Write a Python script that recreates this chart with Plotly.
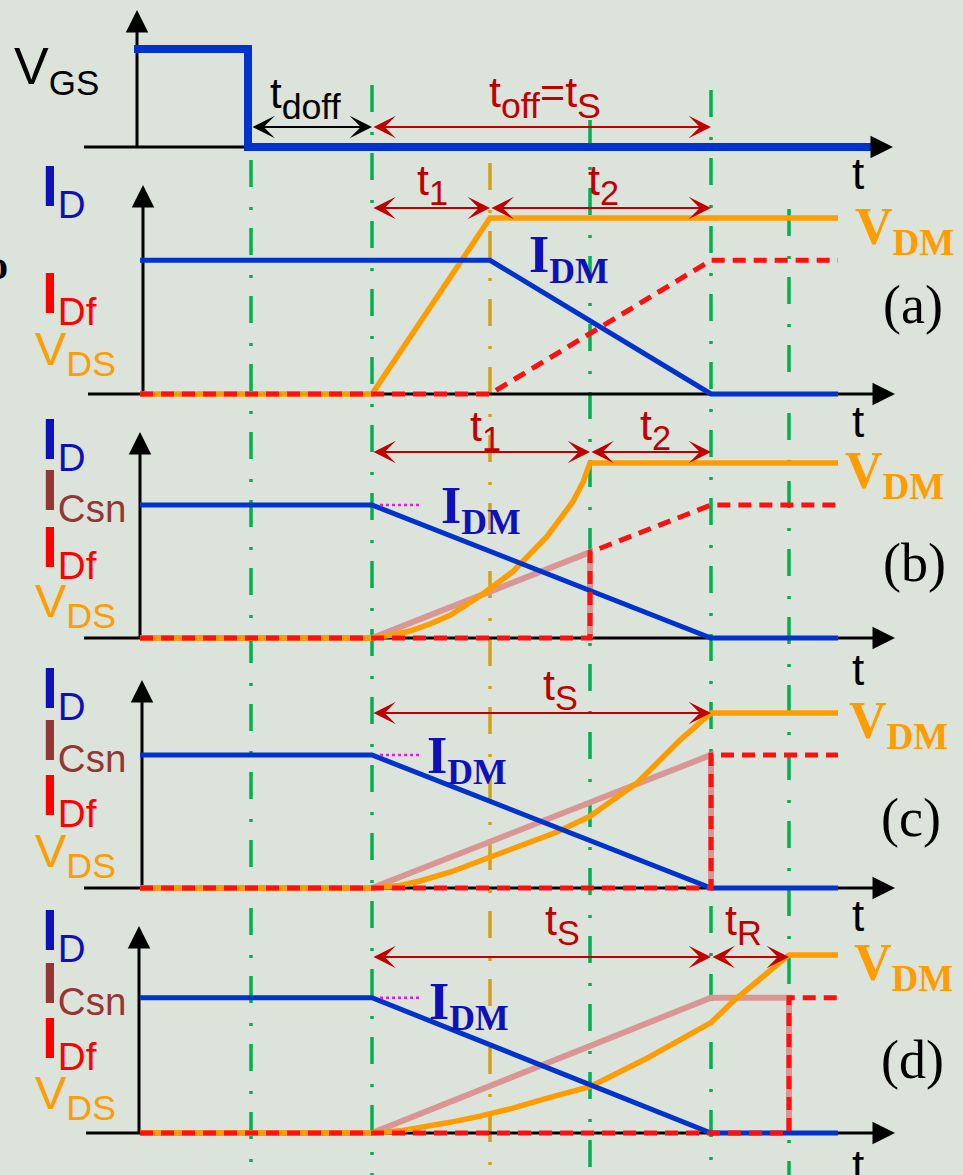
import plotly.graph_objects as go

W, H = 963, 1175

# ---------------- time instants of the turn-off sequence (time units) ----------------
T_GATE_OFF = 11.1   # gate drive removed
T_SW = 23.2         # end of turn-off delay t_doff
T_A1 = 35.0         # V_DS reaches V_DM, case (a)
T_B1 = 45.0         # V_DS reaches V_DM, case (b)
T_S = 57.1          # drain current has fallen to zero
T_R = 64.9          # V_DS reaches V_DM, case (d)
T_END = 69.8        # end of the drawn waveforms

# normalised levels
V_DM = 1.0
I_DM = 0.76
I_B1 = 0.49         # snubber current when V_DS clamps in case (b)

# ---------------- gate drive ----------------
VGS_T = [-0.6, 10.8, 10.8, 73.3]
VGS_V = [1.0, 1.0, 0.0, 0.0]

# ---------------- case (a): no snubber ----------------
A_ID_T = [0, T_A1, T_S, T_END]
A_ID = [I_DM, I_DM, 0, 0]
A_VDS_T = [0, T_SW, T_A1, T_END]
A_VDS = [0, 0, V_DM, V_DM]
A_IDF_T = [0, T_A1, T_S, T_END]
A_IDF = [0, 0, I_DM, I_DM]

# ---------------- case (b): small snubber ----------------
B_ID_T = [0, T_SW, T_S, T_END]
B_ID = [I_DM, I_DM, 0, 0]
B_VDS_T = [0, T_SW, 25.0, 27.0, 29.0, 31.0, 34.0, 37.3, 40.7, 43.3, 44.3, T_B1, T_END]
B_VDS = [0, 0, 0.015, 0.04, 0.08, 0.13, 0.24, 0.38, 0.58, 0.78, 0.89, V_DM, V_DM]
B_ICSN_T = [0, T_SW, T_B1, T_B1]
B_ICSN = [0, 0, I_B1, 0]
B_IDF_T = [0, T_B1, T_B1, T_S, T_END]
B_IDF = [0, 0, I_B1, I_DM, I_DM]

# ---------------- case (c): critical snubber ----------------
C_ID_T = [0, T_SW, T_S, T_END]
C_ID = [I_DM, I_DM, 0, 0]
C_VDS_T = [0, T_SW, 26.0, 28.0, 31.0, 34.0, 37.8, 41.7, 45.0, 49.7, 54.0, T_S, T_END]
C_VDS = [0, 0, 0.015, 0.04, 0.09, 0.155, 0.235, 0.32, 0.41, 0.60, 0.845, V_DM, V_DM]
C_ICSN_T = [0, T_SW, T_S, T_S]
C_ICSN = [0, 0, I_DM, 0]
C_IDF_T = [0, T_S, T_S, T_END]
C_IDF = [0, 0, I_DM, I_DM]

# ---------------- case (d): large snubber ----------------
D_ID_T = [0, T_SW, T_S, T_END]
D_ID = [I_DM, I_DM, 0, 0]
D_VDS_T = [0, T_SW, 26.0, 28.0, 31.0, 34.0, 37.3, 41.0, 45.0, 50.7, 54.7, T_S, 59.3, 62.3, T_R, T_END]
D_VDS = [0, 0, 0.012, 0.03, 0.06, 0.095, 0.14, 0.20, 0.26, 0.42, 0.55, 0.62, 0.74, 0.88, V_DM, V_DM]
D_ICSN_T = [0, T_SW, T_S, T_R, T_R]
D_ICSN = [0, 0, I_DM, I_DM, 0]
D_IDF_T = [0, T_R, T_R, T_END]
D_IDF = [0, 0, I_DM, I_DM]

# ---------------- styling ----------------
BG = "#dce3db"
BLUE = "#0033cc"
ORANGE = "#ff9c00"
RED = "#ff1010"
PINK = "#d99694"
DARKRED = "#c00000"
GREEN = "#00b050"
TAN = "#d4a017"
MAGENTA = "#dd22dd"
LBLUE = "#1010bb"
BROWN = "#943634"
SANS = "Liberation Sans, Arial, sans-serif"
SERIF = "Liberation Serif, Times New Roman, serif"

# time axis: pixel = X0 + PX_PER_T * t
X0, PX_PER_T = 140.0, 10.0
XRANGE = [(0 - X0) / PX_PER_T, (W - X0) / PX_PER_T]

# panel layout: (y axis name, baseline pixel, pixels per unit, axis x pixel, axis top pixel, baseline start pixel)
PANELS = {
    "vgs": ("y", 147, 98, 137, 10, 84),
    "a": ("y2", 394, 176, 143, 185, 88),
    "b": ("y3", 638, 175, 140, 432, 84),
    "c": ("y4", 888, 175, 142, 680, 84),
    "d": ("y5", 1133, 178, 139, 926, 86),
}
AXIS_TIP_X = 895


def px(x):
    return x / W


def py(y):
    return 1 - y / H


fig = go.Figure()
shapes = []
annotations = []

# vertical time markers (dash-dot), spanning all panels
MARKERS = [
    (T_GATE_OFF, 160, GREEN),
    (T_SW, 85, GREEN),
    (T_A1, 163, TAN),
    (T_B1, 120, GREEN),
    (T_S, 90, GREEN),
    (T_R, 209, GREEN),
]
for t, top, col in MARKERS:
    shapes.append(dict(type="line", xref="x", yref="paper", x0=t, x1=t,
                       y0=py(top), y1=0, layer="below",
                       line=dict(color=col, width=3.5, dash="27px,20px,3px,18px")))

# axes: black lines with arrowheads
for key, (yname, base, scale, ax_x, ax_top, base_x0) in PANELS.items():
    shapes.append(dict(type="line", xref="paper", yref="paper",
                       x0=px(ax_x), x1=px(ax_x), y0=py(base + 1), y1=py(ax_top + 18),
                       layer="below", line=dict(color="black", width=3)))
    tip = 893 if key == "vgs" else AXIS_TIP_X
    shapes.append(dict(type="line", xref="paper", yref="paper",
                       x0=px(base_x0), x1=px(tip - 18), y0=py(base), y1=py(base),
                       layer="below", line=dict(color="black", width=3)))
    annotations.append(dict(x=px(ax_x), y=py(ax_top), xref="paper", yref="paper",
                            ax=0, ay=22, axref="pixel", ayref="pixel", text="",
                            showarrow=True, arrowhead=2, arrowsize=1.5, arrowwidth=3,
                            arrowcolor="black", standoff=0))
    annotations.append(dict(x=px(tip), y=py(base), xref="paper", yref="paper",
                            ax=-22, ay=0, axref="pixel", ayref="pixel", text="",
                            showarrow=True, arrowhead=2, arrowsize=1.5, arrowwidth=3,
                            arrowcolor="black", standoff=0))


def line(t, v, panel, color, width, dash=None):
    yname = PANELS[panel][0]
    fig.add_trace(go.Scatter(
        x=t, y=v, mode="lines", yaxis=yname, xaxis="x", hoverinfo="skip",
        showlegend=False, line=dict(color=color, width=width, dash=dash),
    ))


# gate voltage
line(VGS_T, VGS_V, "vgs", BLUE, 8)

# case (a)
line(A_VDS_T, A_VDS, "a", ORANGE, 5.5)
line(A_ID_T, A_ID, "a", BLUE, 5)
line(A_IDF_T, A_IDF, "a", RED, 5, dash="13px,8px")

# case (b)
line(B_ICSN_T, B_ICSN, "b", PINK, 6)
line(B_VDS_T, B_VDS, "b", ORANGE, 5.5)
line(B_ID_T, B_ID, "b", BLUE, 5)
line(B_IDF_T, B_IDF, "b", RED, 5, dash="13px,8px")

# case (c)
line(C_ICSN_T, C_ICSN, "c", PINK, 6)
line(C_VDS_T, C_VDS, "c", ORANGE, 5.5)
line(C_ID_T, C_ID, "c", BLUE, 5)
line(C_IDF_T, C_IDF, "c", RED, 5, dash="13px,8px")

# case (d)
line(D_ICSN_T, D_ICSN, "d", PINK, 6)
line(D_VDS_T, D_VDS, "d", ORANGE, 5.5)
line(D_ID_T, D_ID, "d", BLUE, 5)
line(D_IDF_T, D_IDF, "d", RED, 5, dash="13px,8px")

# leader lines towards the I_DM labels
for p in ("b", "c", "d"):
    line([T_SW + 0.8, T_SW + 5.0], [I_DM, I_DM], p, MAGENTA, 2.5, dash="dot")


# double-headed interval arrows
def interval(t0, t1, ypix, color):
    annotations.append(dict(x=t1, y=py(ypix), xref="x", yref="paper",
                            ax=t0, ay=0, axref="x", ayref="pixel", text="",
                            showarrow=True, arrowside="end+start",
                            arrowhead=3, startarrowhead=3,
                            arrowsize=1.7, startarrowsize=1.7, arrowwidth=2.2,
                            arrowcolor=color, standoff=0, startstandoff=0))


interval(T_GATE_OFF, T_SW, 127, "black")
interval(T_SW, T_S, 127, DARKRED)
interval(T_SW, T_A1, 208, DARKRED)
interval(T_A1, T_S, 208, DARKRED)
interval(T_SW, T_B1, 452, DARKRED)
interval(T_B1, T_S, 452, DARKRED)
interval(T_SW, T_S, 713, DARKRED)
interval(T_SW, T_S, 957, DARKRED)
interval(T_S, T_R, 957, DARKRED)


def text(xp, yp, s, size, color, family=SANS, xanchor="left"):
    annotations.append(dict(x=px(xp), y=py(yp), xref="paper", yref="paper",
                            text=s, showarrow=False, xanchor=xanchor, yanchor="middle",
                            font=dict(size=size, color=color, family=family)))


def big(main, size, bold=False):
    inner = f"<b>{main}</b>" if bold else main
    return f"<span style='font-size:{size}px'>{inner}</span>"


def tsub(s):
    return big("t", 43) + f"<sub>{s}</sub>"


# gate label and delay label
text(12, 70, big("V", 52) + "<sub>GS</sub>", 50, "black")
text(268, 98, big("t", 42) + "<sub>doff</sub>", 51, "black")
text(545, 97, tsub("off") + big("=", 43) + tsub("S"), 51, DARKRED, xanchor="center")

# interval labels
text(432, 184, tsub("1"), 49, DARKRED, xanchor="center")
text(603, 184, tsub("2"), 49, DARKRED, xanchor="center")
text(485, 430, tsub("1"), 49, DARKRED, xanchor="center")
text(655, 429, tsub("2"), 49, DARKRED, xanchor="center")
text(560, 689, tsub("S"), 49, DARKRED, xanchor="center")
text(562, 924, tsub("S"), 49, DARKRED, xanchor="center")
text(743, 924, tsub("R"), 49, DARKRED, xanchor="center")

# time-axis labels
for yy in (173, 421, 669, 916, 1165):
    text(858, yy, "t", 44, "black", xanchor="center")

# left-hand signal names
ID = big("I", 57, True) + "<sub>D</sub>"
ICSN = big("I", 57, True) + "<sub>Csn</sub>"
IDF = big("I", 57, True) + "<sub>Df</sub>"
VDS = big("V", 47) + "<sub>DS</sub>"
text(40, 190, ID, 55, LBLUE)
text(40, 297, IDF, 55, "#ff0000")
text(33, 353, VDS, 51, ORANGE)
for y_id, y_cs, y_df, y_vds in ((443, 494, 551, 605), (692, 744, 799, 855), (934, 987, 1042, 1097)):
    text(40, y_id, ID, 55, LBLUE)
    text(40, y_cs, ICSN, 55, BROWN)
    text(40, y_df, IDF, 55, "#ff0000")
    text(33, y_vds, VDS, 51, ORANGE)

# right-hand labels
VDM = big("V", 52, True) + "<sub><b>DM</b></sub>"
IDMT = big("I", 52, True) + "<sub><b>DM</b></sub>"
for (xv, yv), (xi, yi), (xc, yc, tag) in (
    ((853, 230), (527, 259), (881, 305, "(a)")),
    ((843, 474), (439, 509), (881, 563, "(b)")),
    ((847, 724), (425, 759), (879, 818, "(c)")),
    ((852, 966), (427, 1006), (879, 1060, "(d)")),
):
    text(xv, yv, VDM, 53, ORANGE, family=SERIF)
    text(xi, yi, IDMT, 51, LBLUE, family=SERIF)
    text(xc, yc, tag, 54, "black", family=SERIF)

# clipped bullet at the page edge
text(-14, 265, "<b>o</b>", 40, "black", family=SERIF)

yaxes = {}
for key, (yname, base, scale, *_rest) in PANELS.items():
    rng = [(base - H) / scale, base / scale]
    spec = dict(range=rng, domain=[0, 1], visible=False, fixedrange=True)
    if yname != "y":
        spec["overlaying"] = "y"
    yaxes["yaxis" if yname == "y" else "yaxis" + yname[1:]] = spec

fig.update_layout(
    width=W, height=H, margin=dict(l=0, r=0, t=0, b=0),
    paper_bgcolor=BG, plot_bgcolor=BG,
    xaxis=dict(range=XRANGE, domain=[0, 1], visible=False, fixedrange=True),
    shapes=shapes, annotations=annotations, showlegend=False,
    **yaxes,
)

fig.write_html("out.html")
